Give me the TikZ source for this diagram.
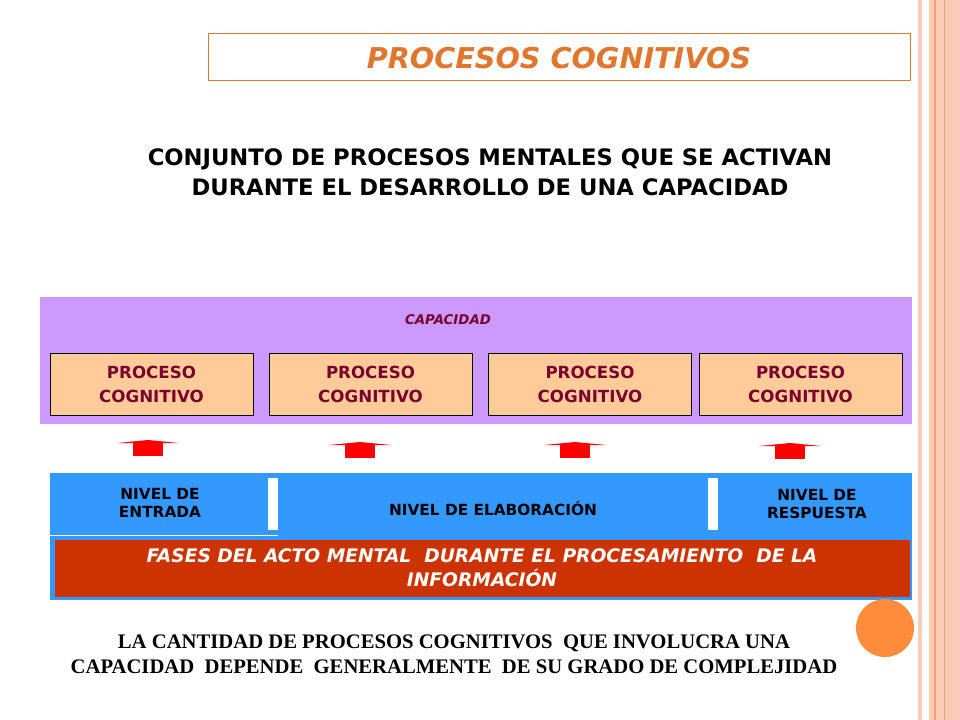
\documentclass[tikz,border=0pt]{standalone}
\usepackage{fontspec}
\setmainfont{DejaVu Sans}
\newfontfamily\serifb{Liberation Serif}
\definecolor{ttl}{HTML}{E0772E}
\definecolor{purp}{HTML}{CC99FF}
\definecolor{peach}{HTML}{FFCC99}
\definecolor{maroon}{HTML}{7A0030}
\definecolor{blu}{HTML}{3399FF}
\definecolor{rust}{HTML}{CC3300}
\definecolor{pinkb}{HTML}{FBCBB8}
\definecolor{orline}{HTML}{F0A070}
\definecolor{circ}{HTML}{FF8C3A}
\begin{document}
\begin{tikzpicture}[x=0.75pt,y=-0.75pt,
  pbox/.style={draw=black,fill=peach,minimum width=152.5pt,minimum height=46.5pt,inner sep=0pt,align=center,font=\fontsize{12.5}{18}\selectfont\bfseries,text=maroon},
  lvl/.style={align=center,font=\fontsize{11.5}{14}\selectfont\bfseries,text=black}]
\useasboundingbox (0,0) rectangle (960,720);
\fill[white] (0,0) rectangle (960,720);
% right border
\fill[pinkb] (918,0) rectangle (922,720);
\fill[pinkb] (929,0) rectangle (960,720);
\draw[orline,line width=0.8pt] (935,0) -- (935,720);
\draw[orline,line width=0.5pt] (944,0) -- (944,720);
% title
\node[draw=ttl,minimum width=526.5pt,minimum height=35.25pt,inner sep=0pt] (title) at (559,56.5) {};
\node[text=ttl,font=\fontsize{21.5}{21.5}\selectfont\bfseries\itshape] (tt) at (559,58) {PROCESOS COGNITIVOS};
\node[align=center,font=\fontsize{17}{22.5}\selectfont\bfseries] (sub) at (490,172) {CONJUNTO DE PROCESOS MENTALES QUE SE ACTIVAN\\DURANTE EL DESARROLLO DE UNA CAPACIDAD};
% capacidad
\fill[purp] (40,297) rectangle (912,424);
\node[text=maroon,font=\fontsize{10}{10}\selectfont\bfseries\itshape] (cap) at (448,320) {CAPACIDAD};
\node[pbox] (p1) at (151.5,384) {PROCESO\\COGNITIVO};
\node[pbox] (p2) at (370.5,384) {PROCESO\\COGNITIVO};
\node[pbox] (p3) at (590,384) {PROCESO\\COGNITIVO};
\node[pbox] (p4) at (800.5,384) {PROCESO\\COGNITIVO};
% arrows
\foreach \cx/\ty in {148/440,360/442,575/442,790/443}{
  \fill[red] (\cx-31,\ty+3) -- (\cx,\ty) -- (\cx+31,\ty+3) -- cycle;
  \fill[red] (\cx-15,\ty+3) rectangle (\cx+15,\ty+16);
}
% levels
\fill[blu] (50,473) rectangle (912,600);
\fill[white] (268,478) rectangle (278,530);
\fill[white] (708,478) rectangle (718,530);
\draw[white,line width=0.6pt] (50,535.5) -- (278,535.5);
\fill[rust] (55,540) rectangle (910,597);
\node[lvl] (l1) at (160,503) {NIVEL DE\\ENTRADA};
\node[lvl] (l2) at (493,508) {NIVEL DE ELABORACIÓN};
\node[lvl] (l3) at (817,504) {NIVEL DE\\RESPUESTA};
\node[align=center,text=white,font=\fontsize{14}{18}\selectfont\bfseries\itshape] (fases) at (482,568) {FASES DEL ACTO MENTAL \ DURANTE EL PROCESAMIENTO \ DE LA\\INFORMACIÓN};
\fill[circ] (885,628) circle (29);
\node[align=center,font=\serifb\fontsize{15.5}{18.75}\selectfont\bfseries] (bot) at (454,654) {LA CANTIDAD DE PROCESOS COGNITIVOS \ QUE INVOLUCRA UNA\\CAPACIDAD \ DEPENDE \ GENERALMENTE \ DE SU GRADO DE COMPLEJIDAD};
\end{tikzpicture}
\end{document}
